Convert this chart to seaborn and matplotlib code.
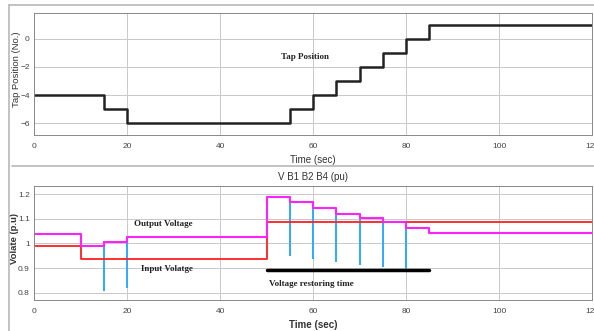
import matplotlib
matplotlib.use("Agg")
import matplotlib.pyplot as plt
import seaborn as sns
import pandas as pd
from matplotlib.lines import Line2D

sns.set_style("white")
plt.rcParams['font.family'] = ['Liberation Sans', 'DejaVu Sans']

# ---- data ----
tap_times = [0, 15, 20, 55, 60, 65, 70, 75, 80, 85, 120]
tap_pos = [-4, -5, -6, -5, -4, -3, -2, -1, 0, 1, 1]

out_times = [0, 10, 15, 20, 50, 55, 60, 65, 70, 75, 80, 85, 120]
out_volt = [1.038, 0.991, 1.007, 1.025, 1.188, 1.167, 1.145, 1.122, 1.105, 1.086, 1.064, 1.043, 1.043]

in_times = [0, 10, 50, 120]
in_volt = [0.99, 0.935, 1.087, 1.087]

spike_times = [15, 20, 55, 60, 65, 70, 75, 80]
spike_min = [0.812, 0.823, 0.952, 0.941, 0.928, 0.918, 0.909, 0.895]

restore_start, restore_end, restore_level = 50, 85, 0.891

x_ticks = [0, 20, 40, 60, 80, 100, 120]
tap_ticks = [0, -2, -4, -6]
volt_ticks = [0.8, 0.9, 1.0, 1.1, 1.2]
volt_ticklabels = ["0.8", "0.9", "1", "1.1", "1.2"]

# ---- build frames ----
df_tap = pd.DataFrame({"t": tap_times, "v": tap_pos})
df_out = pd.DataFrame({"t": out_times, "v": out_volt})
df_in = pd.DataFrame({"t": in_times, "v": in_volt})

# blue series: follows output levels with dips at each switching instant
bx, by = [], []
for i in range(len(out_times) - 1):
    t0, t1 = out_times[i], out_times[i + 1]
    lvl = out_volt[i]
    bx += [t0, t1]
    by += [lvl, lvl]
    if t1 in spike_times:
        bx += [t1, t1]
        by += [spike_min[spike_times.index(t1)], out_volt[i + 1]]
df_blue = pd.DataFrame({"t": bx, "v": by})

fig = plt.figure(figsize=(5.94, 3.31), dpi=100)
ax1 = fig.add_axes([34/594, 1-135/331, 558/594, 122/331])
ax2 = fig.add_axes([34/594, 1-300/331, 558/594, 114/331])

tick_kw = dict(labelsize=6, labelcolor="#444444", colors="#888888", direction="in",
               length=3, width=0.6)
grid_kw = dict(color="#c8c8c8", linewidth=0.7)

# top
sns.lineplot(data=df_tap, x="t", y="v", ax=ax1, color="#222222", linewidth=1.8,
             drawstyle="steps-post", estimator=None, sort=False)
ax1.set_xlim(0, 120)
ax1.set_ylim(-6.85, 1.85)
ax1.set_xticks(x_ticks)
ax1.set_yticks(tap_ticks)
ax1.tick_params(**tick_kw)
ax1.tick_params(axis="x", pad=6)
ax1.tick_params(axis="y", pad=3)
ax1.grid(True, **grid_kw)
ax1.set_xlabel("Time (sec)", fontsize=7, color="#333333", labelpad=3)
ax1.set_ylabel("Tap Position (No.)", fontsize=6.8, color="#333333")
ax1.yaxis.set_label_coords(-0.023, 0.54)
ax1.text(53.2, -1.26, "Tap Position", fontsize=6.5, fontweight="bold",
         family=["Liberation Serif"], color="#222222", va="center", ha="left")

# bottom
sns.lineplot(data=df_blue, x="t", y="v", ax=ax2, color="#33aaff", linewidth=1.3,
             estimator=None, sort=False)
sns.lineplot(data=df_in, x="t", y="v", ax=ax2, color="#ff2020", linewidth=1.3,
             drawstyle="steps-post", estimator=None, sort=False)
sns.lineplot(data=df_out, x="t", y="v", ax=ax2, color="#ff22ff", linewidth=1.5,
             drawstyle="steps-post", estimator=None, sort=False)
ax2.plot([restore_start, restore_end], [restore_level, restore_level], color="black", linewidth=2.5)
ax2.set_xlim(0, 120)
ax2.set_ylim(0.77, 1.234)
ax2.set_xticks(x_ticks)
ax2.set_yticks(volt_ticks)
ax2.set_yticklabels(volt_ticklabels)
ax2.tick_params(**tick_kw)
ax2.tick_params(axis="x", pad=6)
ax2.tick_params(axis="y", pad=3)
ax2.grid(True, **grid_kw)
ax2.set_xlabel("Time (sec)", fontsize=7, fontweight="bold", color="#333333", labelpad=3)
ax2.set_ylabel("Volate (p.u)", fontsize=6.8, fontweight="bold", color="#333333")
ax2.yaxis.set_label_coords(-0.027, 0.54)
ax2.set_title("V B1 B2 B4 (pu)", fontsize=7, color="#333333", pad=4)
ax2.text(21.5, 1.078, "Output Voltage", fontsize=6.5, fontweight="bold",
         family=["Liberation Serif"], color="#222222", va="center", ha="left")
ax2.text(23.1, 0.895, "Input Volatge", fontsize=6.5, fontweight="bold",
         family=["Liberation Serif"], color="#222222", va="center", ha="left")
ax2.text(50.5, 0.834, "Voltage restoring time", fontsize=6.5, fontweight="bold",
         family=["Liberation Serif"], color="#222222", va="center", ha="left")

for ax in (ax1, ax2):
    for s in ax.spines.values():
        s.set_color("#888888")
        s.set_linewidth(0.7)

# scope panel frames
fc = "#b8b8b8"
fig.add_artist(Line2D([9/594, 9/594], [0, 1-5/331], transform=fig.transFigure, color=fc, linewidth=1.2))
fig.add_artist(Line2D([9/594, 1], [1-5/331, 1-5/331], transform=fig.transFigure, color=fc, linewidth=1.2))
fig.add_artist(Line2D([12/594, 1], [1-166/331, 1-166/331], transform=fig.transFigure, color=fc, linewidth=1.2))

fig.savefig("out.png", dpi=100)
